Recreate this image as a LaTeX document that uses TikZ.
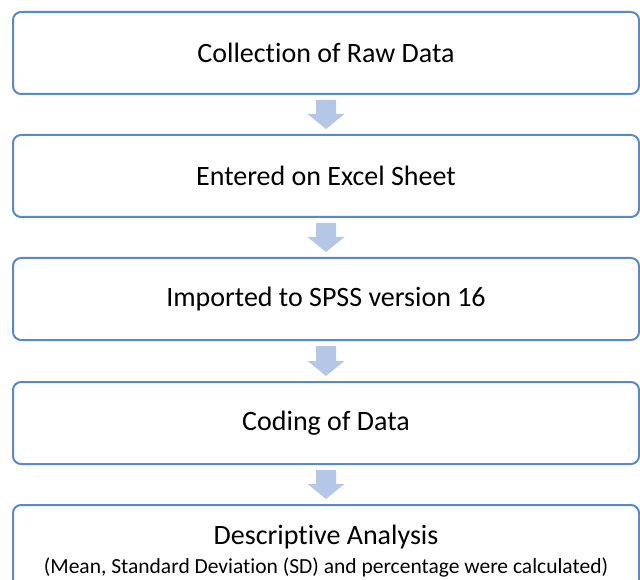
\documentclass[tikz,border=0pt]{standalone}
\usepackage{fontspec}
\setmainfont[Ligatures=NoCommon]{Carlito}
\usetikzlibrary{calc}
\definecolor{boxline}{HTML}{5A8AC6}
\definecolor{arrowfill}{HTML}{B4C7E7}
\tikzset{
  stepbox/.style={draw=boxline, line width=2pt, rounded corners=8pt,
    minimum width=626pt, minimum height=82pt, inner sep=0pt, fill=white,
    font=\fontsize{28}{32}\selectfont},
  subtext/.style={inner sep=0pt, font=\fontsize{21.5}{25}\selectfont},
  titletext/.style={inner sep=0pt, font=\fontsize{28}{32}\selectfont}
}
\newcommand{\flowarrow}[2]{%
  \fill[arrowfill]
    ($(#1.south)+(-10pt,-5pt)$) -- ($(#1.south)+(10pt,-5pt)$)
    -- ($(#2.north)+(10pt,20pt)$) -- ($(#2.north)+(18.5pt,20pt)$)
    -- ($(#2.north)+(0pt,5pt)$)
    -- ($(#2.north)+(-18.5pt,20pt)$) -- ($(#2.north)+(-10pt,20pt)$) -- cycle;}
\begin{document}
\begin{tikzpicture}[x=1pt,y=-1pt]
\useasboundingbox (0,0) rectangle (640,580);
\clip (0,0) rectangle (640,580);
\node[stepbox] (b1) at (326,53) {Collection of Raw Data};
\node[stepbox] (b2) at (326,176) {Entered on Excel Sheet};
\node[stepbox] (b3) at (326,299) {Imported to SPSS version 16};
\node[stepbox] (b4) at (326,423) {Coding of Data};
\node[stepbox] (b5) at (326,546) {};
\node[titletext] (b5t) at (326,537) {Descriptive Analysis};
\node[subtext] (b5s) at (326,567) {(Mean, Standard Deviation (SD) and percentage were calculated)};
\flowarrow{b1}{b2}
\flowarrow{b2}{b3}
\flowarrow{b3}{b4}
\flowarrow{b4}{b5}
\end{tikzpicture}
\end{document}
